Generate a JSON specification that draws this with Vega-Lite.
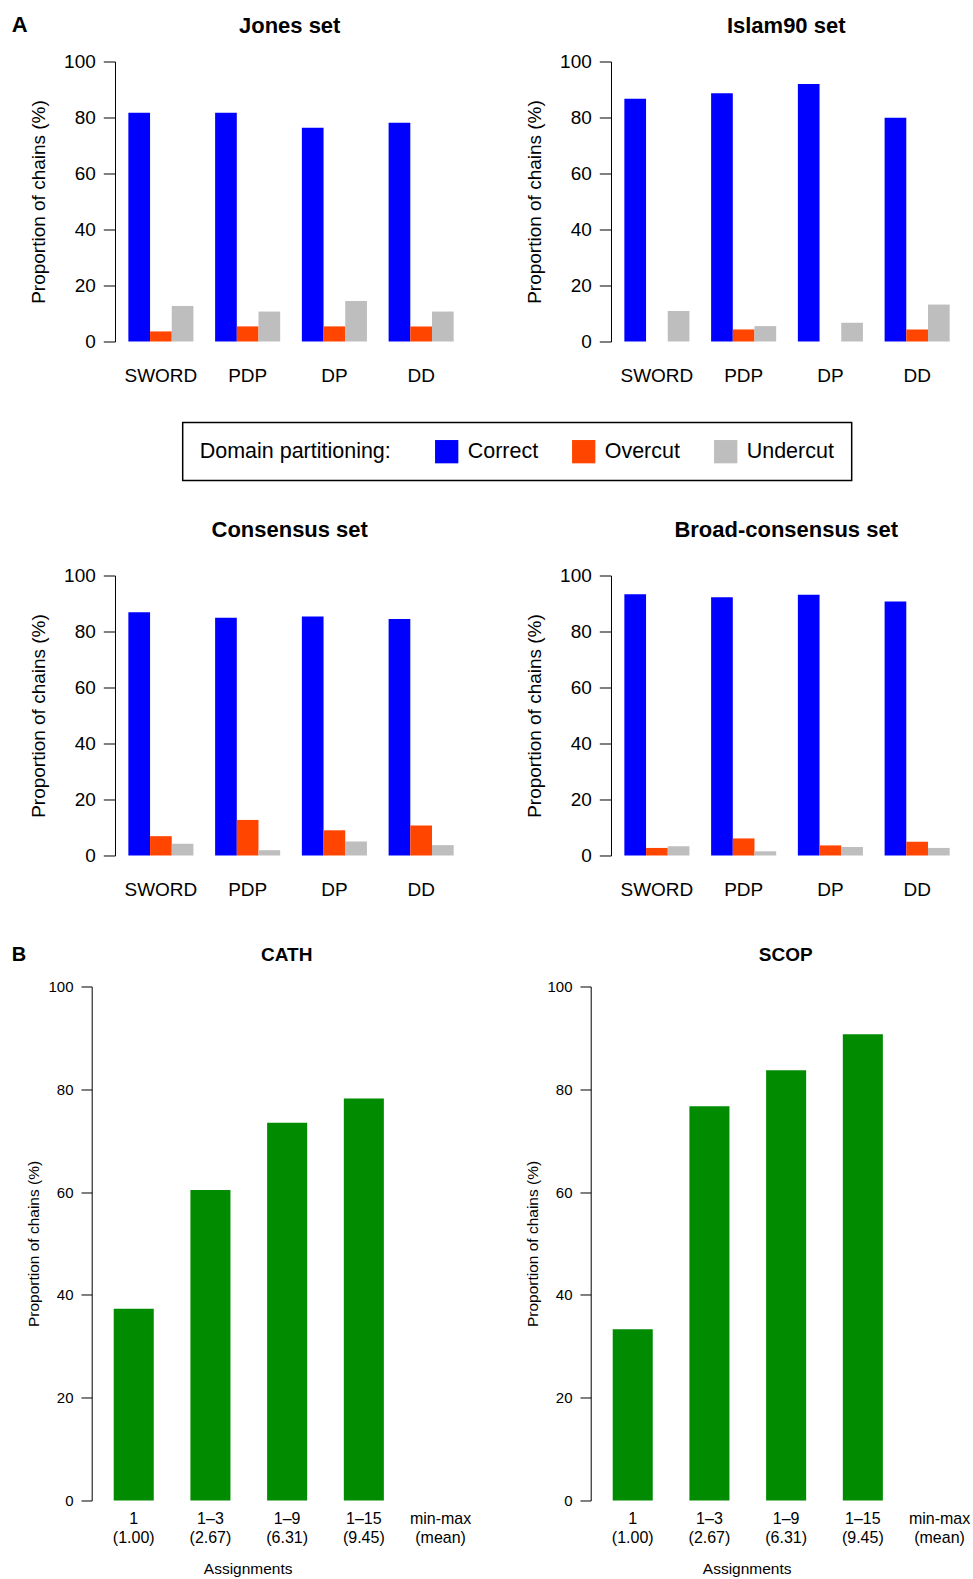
{
  "$schema": "https://vega.github.io/schema/vega-lite/v6.json",
  "background": "white",
  "padding": {"left": 11.7, "top": 13.5, "right": 0, "bottom": 3},
  "autosize": {"type": "pad"},
  "datasets": {
    "partition": [
      {"set": "Jones", "method": "SWORD", "type": "Correct", "value": 81.7},
      {"set": "Jones", "method": "SWORD", "type": "Overcut", "value": 3.6},
      {"set": "Jones", "method": "SWORD", "type": "Undercut", "value": 12.7},
      {"set": "Jones", "method": "PDP", "type": "Correct", "value": 81.7},
      {"set": "Jones", "method": "PDP", "type": "Overcut", "value": 5.4},
      {"set": "Jones", "method": "PDP", "type": "Undercut", "value": 10.7},
      {"set": "Jones", "method": "DP", "type": "Correct", "value": 76.3},
      {"set": "Jones", "method": "DP", "type": "Overcut", "value": 5.4},
      {"set": "Jones", "method": "DP", "type": "Undercut", "value": 14.5},
      {"set": "Jones", "method": "DD", "type": "Correct", "value": 78.1},
      {"set": "Jones", "method": "DD", "type": "Overcut", "value": 5.4},
      {"set": "Jones", "method": "DD", "type": "Undercut", "value": 10.7},
      {"set": "Islam90", "method": "SWORD", "type": "Correct", "value": 86.7},
      {"set": "Islam90", "method": "SWORD", "type": "Overcut", "value": 0},
      {"set": "Islam90", "method": "SWORD", "type": "Undercut", "value": 10.9},
      {"set": "Islam90", "method": "PDP", "type": "Correct", "value": 88.7},
      {"set": "Islam90", "method": "PDP", "type": "Overcut", "value": 4.3},
      {"set": "Islam90", "method": "PDP", "type": "Undercut", "value": 5.5},
      {"set": "Islam90", "method": "DP", "type": "Correct", "value": 92.0},
      {"set": "Islam90", "method": "DP", "type": "Overcut", "value": 0},
      {"set": "Islam90", "method": "DP", "type": "Undercut", "value": 6.7},
      {"set": "Islam90", "method": "DD", "type": "Correct", "value": 79.9},
      {"set": "Islam90", "method": "DD", "type": "Overcut", "value": 4.3},
      {"set": "Islam90", "method": "DD", "type": "Undercut", "value": 13.2},
      {"set": "Consensus", "method": "SWORD", "type": "Correct", "value": 86.9},
      {"set": "Consensus", "method": "SWORD", "type": "Overcut", "value": 6.9},
      {"set": "Consensus", "method": "SWORD", "type": "Undercut", "value": 4.2},
      {"set": "Consensus", "method": "PDP", "type": "Correct", "value": 84.9},
      {"set": "Consensus", "method": "PDP", "type": "Overcut", "value": 12.7},
      {"set": "Consensus", "method": "PDP", "type": "Undercut", "value": 1.9},
      {"set": "Consensus", "method": "DP", "type": "Correct", "value": 85.4},
      {"set": "Consensus", "method": "DP", "type": "Overcut", "value": 9.0},
      {"set": "Consensus", "method": "DP", "type": "Undercut", "value": 5.0},
      {"set": "Consensus", "method": "DD", "type": "Correct", "value": 84.5},
      {"set": "Consensus", "method": "DD", "type": "Overcut", "value": 10.7},
      {"set": "Consensus", "method": "DD", "type": "Undercut", "value": 3.7},
      {"set": "Broad", "method": "SWORD", "type": "Correct", "value": 93.3},
      {"set": "Broad", "method": "SWORD", "type": "Overcut", "value": 2.7},
      {"set": "Broad", "method": "SWORD", "type": "Undercut", "value": 3.3},
      {"set": "Broad", "method": "PDP", "type": "Correct", "value": 92.2},
      {"set": "Broad", "method": "PDP", "type": "Overcut", "value": 6.1},
      {"set": "Broad", "method": "PDP", "type": "Undercut", "value": 1.5},
      {"set": "Broad", "method": "DP", "type": "Correct", "value": 93.1},
      {"set": "Broad", "method": "DP", "type": "Overcut", "value": 3.6},
      {"set": "Broad", "method": "DP", "type": "Undercut", "value": 3.0},
      {"set": "Broad", "method": "DD", "type": "Correct", "value": 90.7},
      {"set": "Broad", "method": "DD", "type": "Overcut", "value": 4.9},
      {"set": "Broad", "method": "DD", "type": "Undercut", "value": 2.7}
    ],
    "assign": [
      {"db": "CATH", "group": "1 (1.00)", "value": 37.3},
      {"db": "CATH", "group": "1–3 (2.67)", "value": 60.4},
      {"db": "CATH", "group": "1–9 (6.31)", "value": 73.5},
      {"db": "CATH", "group": "1–15 (9.45)", "value": 78.2},
      {"db": "SCOP", "group": "1 (1.00)", "value": 33.3},
      {"db": "SCOP", "group": "1–3 (2.67)", "value": 76.7},
      {"db": "SCOP", "group": "1–9 (6.31)", "value": 83.7},
      {"db": "SCOP", "group": "1–15 (9.45)", "value": 90.7}
    ]
  },
  "spacing": 45,
  "vconcat": [
    {
      "title": {"text": "A", "anchor": "start", "frame": "group", "offset": -22.2, "dx": -80, "fontSize": 22, "fontWeight": "bold"},
      "spacing": 133,
      "vconcat": [
        {
          "spacing": 58,
          "hconcat": [
            {
              "title": {"text": "Jones set", "fontSize": 22, "offset": 14.4, "dx": 10.5, "anchor": "middle", "frame": "group"},
              "width": 375, "height": 280,
              "data": {"name": "partition"},
              "transform": [{"filter": "datum.set === 'Jones'"}],
              "mark": {"type": "bar"},
              "encoding": {
                "x": {"field": "method", "type": "nominal", "sort": ["SWORD", "PDP", "DP", "DD"], "scale": {"paddingInner": 0.25, "paddingOuter": 0.2864, "align": 0.738}, "axis": {"title": null, "domain": false, "ticks": false, "labelAngle": 0, "labelPadding": 25, "labelFontSize": 19}},
                "xOffset": {"field": "type", "type": "nominal", "sort": ["Correct", "Overcut", "Undercut"], "scale": {"paddingInner": 0, "paddingOuter": 0}},
                "y": {"field": "value", "type": "quantitative", "scale": {"domain": [0, 100]}, "axis": {"title": "Proportion of chains (%)", "offset": -23.3, "values": [0, 20, 40, 60, 80, 100], "tickSize": 11.7, "labelPadding": 8, "labelFontSize": 19, "titleFontSize": 19, "titlePadding": 15.5}},
                "color": {"field": "type", "type": "nominal", "scale": {"domain": ["Correct", "Overcut", "Undercut"], "range": ["#0000FF", "#FF4500", "#BEBEBE"]},
                  "legend": {"title": "Domain partitioning:", "orient": "none", "legendX": 91, "legendY": 361, "direction": "horizontal", "titleOrient": "left", "titleAnchor": "middle", "titleBaseline": "middle", "titleFontSize": 21.5, "titleFontWeight": "normal", "titleLimit": 400, "titlePadding": 43, "labelFontSize": 21.5, "labelOffset": 9, "labelLimit": 300, "symbolType": "square", "symbolSize": 543, "symbolOpacity": 1, "symbolStrokeWidth": 0, "columnPadding": 33, "padding": 17, "strokeColor": "#000", "labelColor": "#000", "titleColor": "#000", "encode": {"legend": {"update": {"strokeWidth": {"value": 1.5}}}}}}
              }
            },
            {
              "title": {"text": "Islam90 set", "fontSize": 22, "offset": 14.4, "dx": 11, "anchor": "middle", "frame": "group"},
              "width": 375, "height": 280,
              "data": {"name": "partition"},
              "transform": [{"filter": "datum.set === 'Islam90'"}],
              "mark": {"type": "bar"},
              "encoding": {
                "x": {"field": "method", "type": "nominal", "sort": ["SWORD", "PDP", "DP", "DD"], "scale": {"paddingInner": 0.25, "paddingOuter": 0.2864, "align": 0.738}, "axis": {"title": null, "domain": false, "ticks": false, "labelAngle": 0, "labelPadding": 25, "labelFontSize": 19}},
                "xOffset": {"field": "type", "type": "nominal", "sort": ["Correct", "Overcut", "Undercut"], "scale": {"paddingInner": 0, "paddingOuter": 0}},
                "y": {"field": "value", "type": "quantitative", "scale": {"domain": [0, 100]}, "axis": {"title": "Proportion of chains (%)", "offset": -23.3, "values": [0, 20, 40, 60, 80, 100], "tickSize": 11.7, "labelPadding": 8, "labelFontSize": 19, "titleFontSize": 19, "titlePadding": 15.5}},
                "color": {"field": "type", "type": "nominal", "scale": {"domain": ["Correct", "Overcut", "Undercut"], "range": ["#0000FF", "#FF4500", "#BEBEBE"]}}
              }
            }
          ]
        },
        {
          "spacing": 58,
          "hconcat": [
            {
              "title": {"text": "Consensus set", "fontSize": 22, "offset": 24.9, "dx": 10.5, "anchor": "middle", "frame": "group"},
              "width": 375, "height": 280,
              "data": {"name": "partition"},
              "transform": [{"filter": "datum.set === 'Consensus'"}],
              "mark": {"type": "bar"},
              "encoding": {
                "x": {"field": "method", "type": "nominal", "sort": ["SWORD", "PDP", "DP", "DD"], "scale": {"paddingInner": 0.25, "paddingOuter": 0.2864, "align": 0.738}, "axis": {"title": null, "domain": false, "ticks": false, "labelAngle": 0, "labelPadding": 25, "labelFontSize": 19}},
                "xOffset": {"field": "type", "type": "nominal", "sort": ["Correct", "Overcut", "Undercut"], "scale": {"paddingInner": 0, "paddingOuter": 0}},
                "y": {"field": "value", "type": "quantitative", "scale": {"domain": [0, 100]}, "axis": {"title": "Proportion of chains (%)", "offset": -23.3, "values": [0, 20, 40, 60, 80, 100], "tickSize": 11.7, "labelPadding": 8, "labelFontSize": 19, "titleFontSize": 19, "titlePadding": 15.5}},
                "color": {"field": "type", "type": "nominal", "scale": {"domain": ["Correct", "Overcut", "Undercut"], "range": ["#0000FF", "#FF4500", "#BEBEBE"]}}
              }
            },
            {
              "title": {"text": "Broad-consensus set", "fontSize": 22, "offset": 24.9, "dx": 11, "anchor": "middle", "frame": "group"},
              "width": 375, "height": 280,
              "data": {"name": "partition"},
              "transform": [{"filter": "datum.set === 'Broad'"}],
              "mark": {"type": "bar"},
              "encoding": {
                "x": {"field": "method", "type": "nominal", "sort": ["SWORD", "PDP", "DP", "DD"], "scale": {"paddingInner": 0.25, "paddingOuter": 0.2864, "align": 0.738}, "axis": {"title": null, "domain": false, "ticks": false, "labelAngle": 0, "labelPadding": 25, "labelFontSize": 19}},
                "xOffset": {"field": "type", "type": "nominal", "sort": ["Correct", "Overcut", "Undercut"], "scale": {"paddingInner": 0, "paddingOuter": 0}},
                "y": {"field": "value", "type": "quantitative", "scale": {"domain": [0, 100]}, "axis": {"title": "Proportion of chains (%)", "offset": -23.3, "values": [0, 20, 40, 60, 80, 100], "tickSize": 11.7, "labelPadding": 8, "labelFontSize": 19, "titleFontSize": 19, "titlePadding": 15.5}},
                "color": {"field": "type", "type": "nominal", "scale": {"domain": ["Correct", "Overcut", "Undercut"], "range": ["#0000FF", "#FF4500", "#BEBEBE"]}}
              }
            }
          ]
        }
      ]
    },
    {
      "title": {"text": "B", "anchor": "start", "frame": "group", "offset": -19.4, "dx": -80, "fontSize": 20, "fontWeight": "bold"},
      "spacing": 54,
      "hconcat": [
        {
          "title": {"text": "CATH", "fontSize": 19, "offset": 14.7, "dx": 6, "anchor": "middle", "frame": "group"},
          "width": 378, "height": 514,
          "data": {"name": "assign"},
          "transform": [{"filter": "datum.db === 'CATH'"}],
          "mark": {"type": "bar", "color": "#008B00"},
          "encoding": {
            "x": {"field": "group", "type": "nominal", "scale": {"domain": ["1 (1.00)", "1–3 (2.67)", "1–9 (6.31)", "1–15 (9.45)", "min-max (mean)"], "paddingInner": 0.478, "paddingOuter": 0.203, "align": 0.707}, "axis": {"title": "Assignments", "domain": false, "ticks": false, "labelAngle": 0, "labelPadding": 10.5, "labelFontSize": 16, "labelLineHeight": 18.5, "labelOverlap": false, "labelExpr": "split(datum.label, ' ')", "titleFontSize": 15.5, "titlePadding": 16, "titleX": 156}},
            "y": {"field": "value", "type": "quantitative", "scale": {"domain": [0, 100]}, "axis": {"title": "Proportion of chains (%)", "values": [0, 20, 40, 60, 80, 100], "tickSize": 10.7, "labelPadding": 8, "labelFontSize": 15, "titleFontSize": 15.5, "titlePadding": 6}}
          }
        },
        {
          "title": {"text": "SCOP", "fontSize": 19, "offset": 14.7, "dx": 6, "anchor": "middle", "frame": "group"},
          "width": 378, "height": 514,
          "data": {"name": "assign"},
          "transform": [{"filter": "datum.db === 'SCOP'"}],
          "mark": {"type": "bar", "color": "#008B00"},
          "encoding": {
            "x": {"field": "group", "type": "nominal", "scale": {"domain": ["1 (1.00)", "1–3 (2.67)", "1–9 (6.31)", "1–15 (9.45)", "min-max (mean)"], "paddingInner": 0.478, "paddingOuter": 0.203, "align": 0.707}, "axis": {"title": "Assignments", "domain": false, "ticks": false, "labelAngle": 0, "labelPadding": 10.5, "labelFontSize": 16, "labelLineHeight": 18.5, "labelOverlap": false, "labelExpr": "split(datum.label, ' ')", "titleFontSize": 15.5, "titlePadding": 16, "titleX": 156}},
            "y": {"field": "value", "type": "quantitative", "scale": {"domain": [0, 100]}, "axis": {"title": "Proportion of chains (%)", "values": [0, 20, 40, 60, 80, 100], "tickSize": 10.7, "labelPadding": 8, "labelFontSize": 15, "titleFontSize": 15.5, "titlePadding": 6}}
          }
        }
      ]
    }
  ],
  "config": {
    "font": "Liberation Sans",
    "view": {"stroke": null},
    "title": {"font": "Liberation Sans", "color": "#000", "fontWeight": "bold"},
    "axis": {"grid": false, "domainColor": "#000", "tickColor": "#000", "labelColor": "#000", "titleColor": "#000", "labelFont": "Liberation Sans", "titleFont": "Liberation Sans", "titleFontWeight": "normal", "domainWidth": 1, "tickWidth": 1},
    "legend": {"labelFont": "Liberation Sans", "titleFont": "Liberation Sans"}
  }
}
